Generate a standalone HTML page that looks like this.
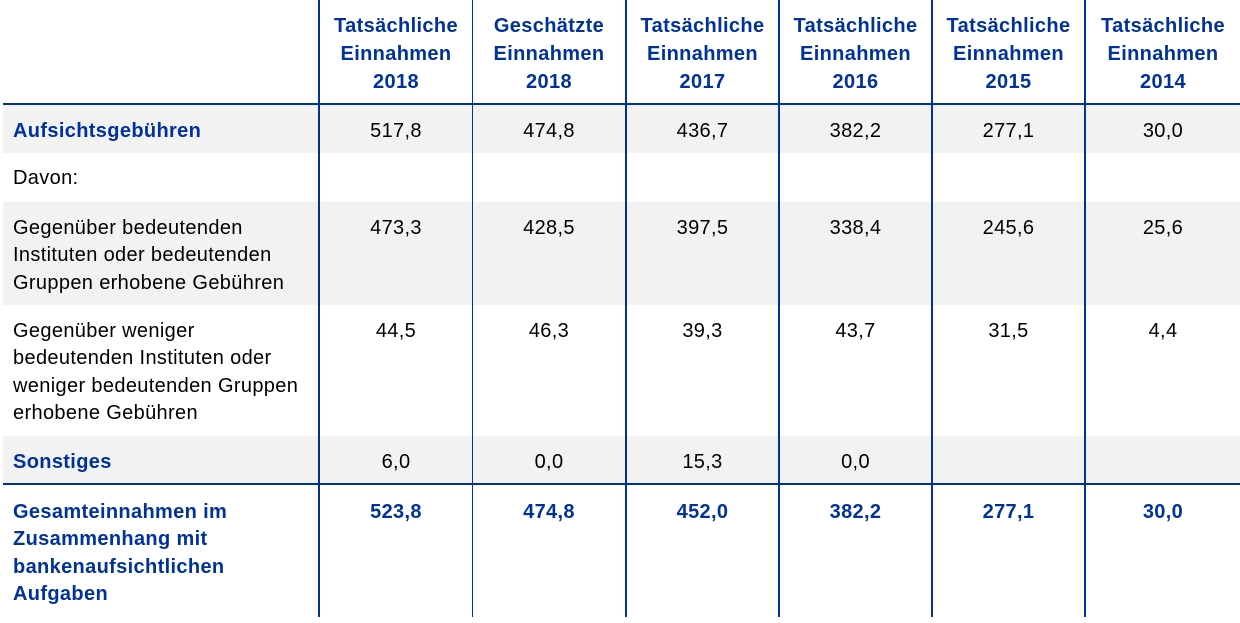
<!DOCTYPE html>
<html><head><meta charset="utf-8">
<style>
html,body{margin:0;padding:0;background:#fff;}
body{width:1240px;height:623px;position:relative;overflow:hidden;font-family:"Liberation Sans",Arial,sans-serif;font-size:20px;letter-spacing:0.35px;color:#000;}
.bg{position:absolute;left:3px;width:1237px;background:#f2f2f2;}
.v{position:absolute;top:0;height:617px;background:#003299;}
.h{position:absolute;left:3px;width:1237px;height:2px;background:#003299;}
.t{position:absolute;line-height:27.5px;white-space:nowrap;}
.c{text-align:center;}
.b{font-weight:bold;color:#003299;}
.hd{position:absolute;top:12px;line-height:28.2px;text-align:center;font-weight:bold;color:#003299;white-space:nowrap;}
</style></head><body>
<div class="bg" style="top:105px;height:48px"></div>
<div class="bg" style="top:202px;height:103px"></div>
<div class="bg" style="top:436px;height:47px"></div>

<div class="h" style="top:103px"></div>
<div class="h" style="top:483px"></div>

<div class="v" style="left:318px;width:2px"></div>
<div class="v" style="left:472px;width:1px"></div>
<div class="v" style="left:625px;width:2px"></div>
<div class="v" style="left:778px;width:2px"></div>
<div class="v" style="left:931px;width:2px"></div>
<div class="v" style="left:1084px;width:2px"></div>

<div class="hd" style="left:320px;width:152px">Tatsächliche<br>Einnahmen<br>2018</div>
<div class="hd" style="left:473px;width:152px">Geschätzte<br>Einnahmen<br>2018</div>
<div class="hd" style="left:627px;width:151px">Tatsächliche<br>Einnahmen<br>2017</div>
<div class="hd" style="left:780px;width:151px">Tatsächliche<br>Einnahmen<br>2016</div>
<div class="hd" style="left:933px;width:151px">Tatsächliche<br>Einnahmen<br>2015</div>
<div class="hd" style="left:1086px;width:154px">Tatsächliche<br>Einnahmen<br>2014</div>

<!-- Row 1 -->
<div class="t b" style="left:13px;top:118px">Aufsichtsgebühren</div>
<div class="t c" style="left:320px;width:152px;top:118px">517,8</div>
<div class="t c" style="left:473px;width:152px;top:118px">474,8</div>
<div class="t c" style="left:627px;width:151px;top:118px">436,7</div>
<div class="t c" style="left:780px;width:151px;top:118px">382,2</div>
<div class="t c" style="left:933px;width:151px;top:118px">277,1</div>
<div class="t c" style="left:1086px;width:154px;top:118px">30,0</div>

<!-- Row 2 -->
<div class="t" style="left:13px;top:165px">Davon:</div>

<!-- Row 3 -->
<div class="t" style="left:13px;top:214.5px">Gegenüber bedeutenden<br>Instituten oder bedeutenden<br>Gruppen erhobene Gebühren</div>
<div class="t c" style="left:320px;width:152px;top:214.5px">473,3</div>
<div class="t c" style="left:473px;width:152px;top:214.5px">428,5</div>
<div class="t c" style="left:627px;width:151px;top:214.5px">397,5</div>
<div class="t c" style="left:780px;width:151px;top:214.5px">338,4</div>
<div class="t c" style="left:933px;width:151px;top:214.5px">245,6</div>
<div class="t c" style="left:1086px;width:154px;top:214.5px">25,6</div>

<!-- Row 4 -->
<div class="t" style="left:13px;top:318px;line-height:27.3px">Gegenüber weniger<br>bedeutenden Instituten oder<br>weniger bedeutenden Gruppen<br>erhobene Gebühren</div>
<div class="t c" style="left:320px;width:152px;top:318px">44,5</div>
<div class="t c" style="left:473px;width:152px;top:318px">46,3</div>
<div class="t c" style="left:627px;width:151px;top:318px">39,3</div>
<div class="t c" style="left:780px;width:151px;top:318px">43,7</div>
<div class="t c" style="left:933px;width:151px;top:318px">31,5</div>
<div class="t c" style="left:1086px;width:154px;top:318px">4,4</div>

<!-- Row 5 -->
<div class="t b" style="left:13px;top:449px">Sonstiges</div>
<div class="t c" style="left:320px;width:152px;top:449px">6,0</div>
<div class="t c" style="left:473px;width:152px;top:449px">0,0</div>
<div class="t c" style="left:627px;width:151px;top:449px">15,3</div>
<div class="t c" style="left:780px;width:151px;top:449px">0,0</div>

<!-- Row 6 -->
<div class="t b" style="left:13px;top:498.5px;line-height:27.6px">Gesamteinnahmen im<br>Zusammenhang mit<br>bankenaufsichtlichen<br>Aufgaben</div>
<div class="t c b" style="left:320px;width:152px;top:498.5px">523,8</div>
<div class="t c b" style="left:473px;width:152px;top:498.5px">474,8</div>
<div class="t c b" style="left:627px;width:151px;top:498.5px">452,0</div>
<div class="t c b" style="left:780px;width:151px;top:498.5px">382,2</div>
<div class="t c b" style="left:933px;width:151px;top:498.5px">277,1</div>
<div class="t c b" style="left:1086px;width:154px;top:498.5px">30,0</div>
</body></html>
